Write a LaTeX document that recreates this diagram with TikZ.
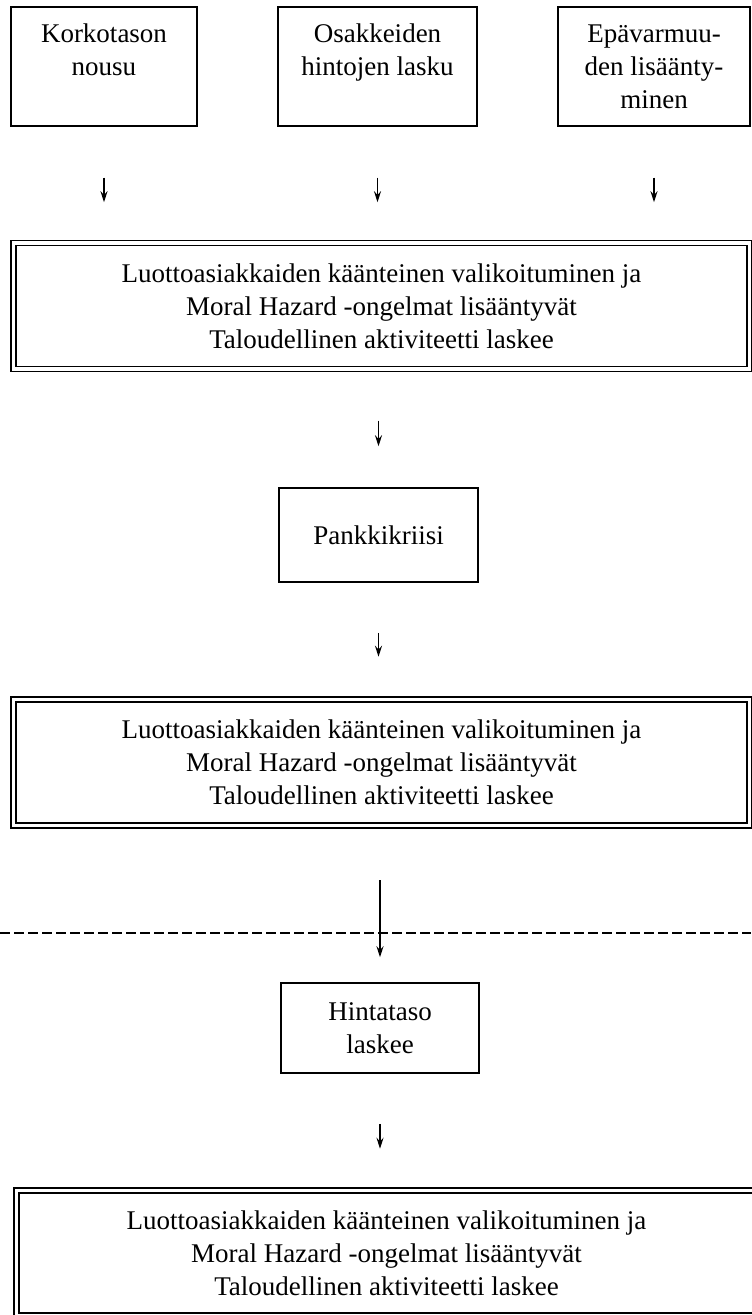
\documentclass[tikz,border=0pt]{standalone}
\usepackage{fontspec}
\setmainfont{Liberation Serif}
\usetikzlibrary{arrows.meta}

\begin{document}
\begin{tikzpicture}[x=0.5pt, y=-0.5pt,
            font=\fontsize{13.5pt}{16.5pt}\selectfont,
            kasten/.style={draw, line width=0.75pt, align=center, inner sep=0pt},
            doppelkasten/.style={draw, double, line width=0.75pt, double distance=1.75pt,
                align=center, inner sep=0pt, minimum width=368pt, minimum height=63pt},
            pfeil/.style={-{Stealth[length=5.5pt, width=3.5pt]}, line width=0.6pt,
                shorten <=25pt, shorten >=20pt},
            trenner/.style={line width=0.75pt, dash pattern=on 5pt off 2pt}]
            % Bildgröße
            \useasboundingbox (0,0) rectangle (751,1315);

            % Text der großen Kästen
            \def\folgen{Luottoasiakkaiden käänteinen valikoituminen ja\\
                Moral Hazard -ongelmat lisääntyvät\\
                Taloudellinen aktiviteetti laskee}

            % Ursachen oben
            \foreach \name/\xpos/\breite/\txt in {
                    kork/104/93pt/{Korkotason\\nousu\\ \mbox{}},
                    osak/377.5/99.5pt/{Osakkeiden\\hintojen lasku\\ \mbox{}},
                    epav/654/96pt/{Epävarmuu-\\den lisäänty-\\minen}} {
                \node[kasten, minimum width=\breite, minimum height=59.5pt] (\name) at (\xpos, 66.5) {\txt};
            }

            % Kästen untereinander
            \node[doppelkasten] (luotto1) at (381.5, 306) {\folgen};
            \node[kasten, minimum width=99.5pt, minimum height=47pt] (pank) at (378.5, 535) {Pankkikriisi};
            \node[doppelkasten] (luotto2) at (381.5, 762.5) {\folgen};
            \node[kasten, minimum width=99pt, minimum height=45pt] (hint) at (380, 1028) {Hintataso\\laskee};
            \node[doppelkasten, minimum width=370pt, minimum height=62.5pt] (luotto3) at (386.5, 1253) {\folgen};

            % Pfeile
            \foreach \name in {kork,osak,epav} {
                \draw[pfeil, shorten <=25.5pt] (\name.south) -- (\name.south |- luotto1.north);
            }
            \draw[pfeil, shorten <=25.5pt, shorten >=20.5pt] (luotto1.south -| pank.north) -- (pank.north);
            \draw[pfeil, shorten >=21pt] (pank.south) -- (pank.south |- luotto2.north);
            \draw[pfeil, shorten <=27pt, shorten >=12.5pt] (luotto2.south -| hint.north) -- (hint.north);
            \draw[pfeil, shorten >=20.5pt] (hint.south) -- (hint.south |- luotto3.north);

            % Trennlinie
            \draw[trenner] (0,933) -- (751,933);
        \end{tikzpicture}
\end{document}
